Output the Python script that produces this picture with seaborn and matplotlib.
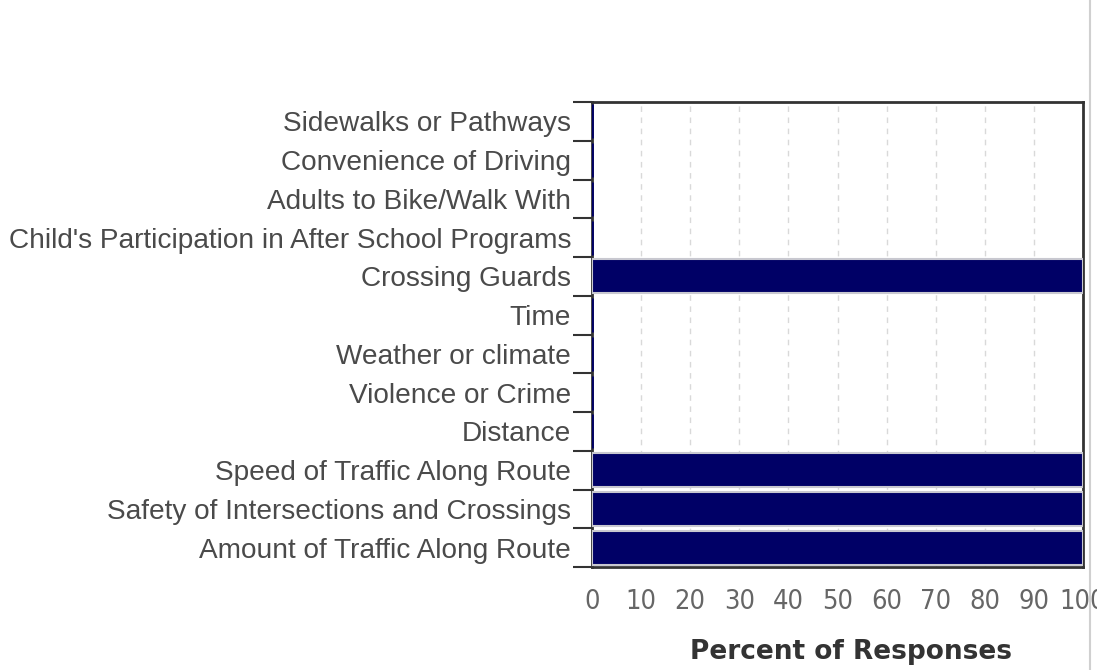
import matplotlib
matplotlib.use('Agg')
import matplotlib.pyplot as plt
import seaborn as sns
import pandas as pd
from matplotlib.lines import Line2D
from matplotlib.ticker import FixedLocator
from matplotlib import font_manager

# Barriers reported by parents
categories = [
    'Sidewalks or Pathways',
    'Convenience of Driving',
    'Adults to Bike/Walk With',
    "Child's Participation in After School Programs",
    'Crossing Guards',
    'Time',
    'Weather or climate',
    'Violence or Crime',
    'Distance',
    'Speed of Traffic Along Route',
    'Safety of Intersections and Crossings',
    'Amount of Traffic Along Route',
]
percent = [0, 0, 0, 0, 100, 0, 0, 0, 0, 100, 100, 100]
x_ticks = [0, 10, 20, 30, 40, 50, 60, 70, 80, 90, 100]

df = pd.DataFrame({'category': categories, 'percent': percent})

sns.set_style('white')

# condensed font for the x tick digits, if one is installed
tick_font = font_manager.FontProperties(family='Liberation Sans', size=17)
cond = font_manager.FontProperties(family='DejaVu Sans', stretch='condensed')
path = font_manager.findfont(cond)
if 'Condensed' in path:
    tick_font = font_manager.FontProperties(fname=path, size=19.5)

fig = plt.figure(figsize=(10.97, 6.70), dpi=100)
ax = fig.add_axes([592 / 1097, 1 - 567 / 670, 491 / 1097, 465 / 670])

sns.barplot(data=df, x='percent', y='category', color='#000066', saturation=1,
            width=0.88, edgecolor='#c8c8d0', linewidth=1.5, ax=ax, zorder=3)

for patch, v in zip(ax.patches, percent):
    if v == 0:
        patch.set_edgecolor('#000066')
        patch.set_linewidth(2)

ax.set_xlim(0, 100)
ax.set_ylim(len(categories) - 0.5, -0.5)

ax.set_xticks(x_ticks)
ax.set_xticklabels([str(t) for t in x_ticks], fontproperties=tick_font, color='#666666')
ax.tick_params(axis='x', direction='out', length=13, width=1.5, color='#333333', pad=3)

ax.set_yticks(range(len(categories)))
ax.set_yticklabels(categories, family='Liberation Sans', fontsize=20.2, color='#4a4a4a')
ax.yaxis.set_minor_locator(FixedLocator([i - 0.5 for i in range(len(categories) + 1)]))
ax.tick_params(axis='y', which='major', length=0, pad=15)
ax.tick_params(axis='y', which='minor', direction='out', length=14, width=1.5, color='#333333', left=True)

ax.xaxis.grid(True, linestyle=(0, (4, 4)), color='#d9d9d9', linewidth=1, zorder=0)
ax.yaxis.grid(False)
ax.set_axisbelow(True)

for side in ['top', 'right', 'left', 'bottom']:
    ax.spines[side].set_visible(True)
    ax.spines[side].set_color('#333333')
    ax.spines[side].set_linewidth(2)

ax.set_ylabel('')
ax.set_xlabel('Percent of Responses', family='DejaVu Sans', fontweight='bold', fontsize=19, color='#333333')
ax.xaxis.set_label_coords(0.527, -0.155)

fig.add_artist(Line2D([1090 / 1097, 1090 / 1097], [0, 1], color='#d0d0d0', linewidth=1.5))

fig.savefig('out.png', dpi=100)
